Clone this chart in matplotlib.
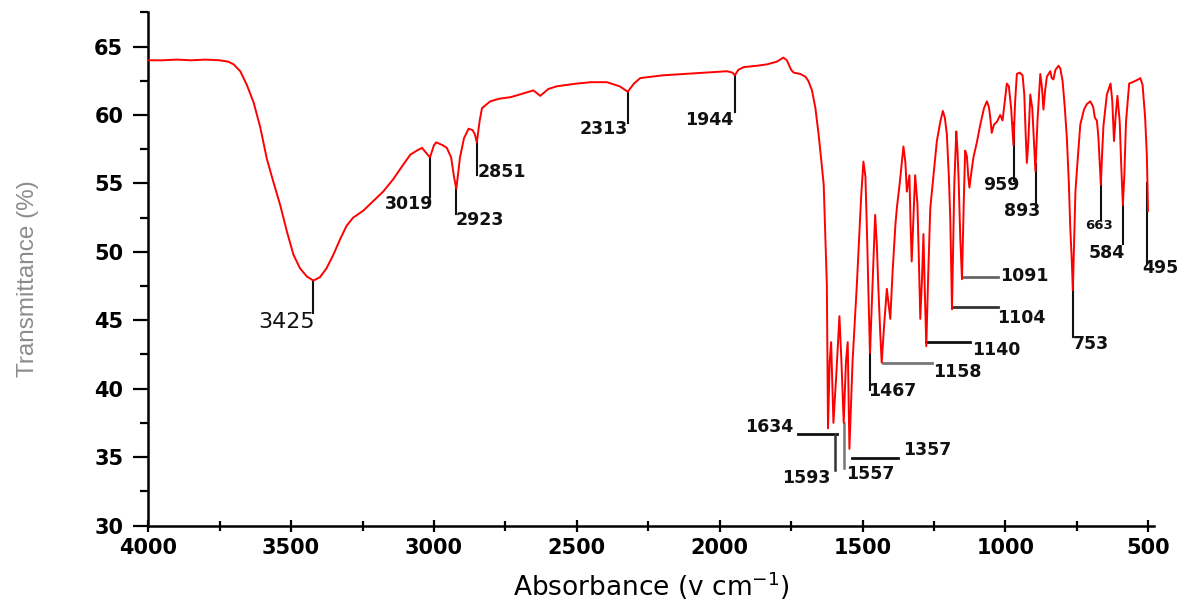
import numpy as np
import matplotlib
matplotlib.use('Agg')
from matplotlib import pyplot as plt
from matplotlib.ticker import MultipleLocator

# FTIR spectrum (wavenumber, transmittance %)
wavenumber = [
    4000, 3950, 3900, 3850, 3800, 3750, 3720, 3701, 3678, 3655, 3631, 3608, 3585,
    3562, 3538, 3515, 3492, 3469, 3445, 3422, 3399, 3376, 3352, 3329, 3306, 3283,
    3248, 3213, 3178, 3143, 3120, 3083, 3060, 3042, 3030, 3014, 3000, 2992, 2970,
    2955, 2940, 2930, 2922, 2915, 2909, 2895, 2879, 2865, 2857, 2850, 2840, 2832,
    2803, 2770, 2733, 2700, 2652, 2640, 2628, 2600, 2570, 2500, 2450, 2395, 2350,
    2322, 2300, 2278, 2200, 2127, 2050, 1975, 1955, 1947, 1935, 1916, 1870, 1835,
    1800, 1777, 1765, 1750, 1741, 1718, 1700, 1690, 1677, 1665, 1654, 1645, 1636,
    1630, 1625, 1621, 1615, 1610, 1602, 1592, 1581, 1574, 1566, 1558, 1552, 1546,
    1535, 1520, 1505, 1497, 1490, 1484, 1479, 1474, 1466, 1456, 1450, 1445, 1438,
    1433, 1425, 1415, 1403, 1395, 1385, 1380, 1370, 1357, 1350, 1345, 1336, 1332,
    1328, 1322, 1316, 1308, 1303, 1298, 1292, 1287, 1282, 1277, 1270, 1263, 1250,
    1240, 1228, 1219, 1212, 1205, 1198, 1193, 1187, 1183, 1179, 1172, 1168, 1164,
    1158, 1152, 1146, 1141, 1135, 1130, 1126, 1118, 1112, 1100, 1088, 1075, 1065,
    1058, 1053, 1048, 1040, 1030, 1018, 1010, 1005, 995, 988, 980, 972, 966, 960,
    950, 940, 934, 929, 925, 920, 913, 906, 900, 895, 888, 878, 872, 867, 861, 855,
    843, 838, 832, 825, 814, 808, 800, 792, 785, 778, 773, 768, 764, 760, 755, 748,
    738, 725, 715, 703, 693, 687, 680, 675, 670, 666, 662, 657, 645, 632, 626, 620,
    614, 608, 600, 595, 589, 584, 578, 567, 555, 545, 535, 528, 520, 511, 505, 501,
]
transmittance = [
    64.0, 64.0, 64.05, 64.0, 64.05, 64.0, 63.9, 63.7, 63.2, 62.2, 60.9, 59.1, 56.8,
    55.1, 53.4, 51.5, 49.8, 48.8, 48.2, 47.9, 48.15, 48.8, 49.8, 50.9, 51.9, 52.5,
    53.0, 53.7, 54.4, 55.3, 56.0, 57.1, 57.4, 57.6, 57.3, 56.9, 57.8, 58.0, 57.8,
    57.6, 56.9, 55.5, 54.6, 55.8, 56.9, 58.3, 59.0, 58.9, 58.6, 58.0, 59.6, 60.5,
    61.0, 61.2, 61.3, 61.5, 61.8, 61.6, 61.4, 61.9, 62.1, 62.3, 62.4, 62.4, 62.1,
    61.7, 62.3, 62.7, 62.9, 63.0, 63.1, 63.2, 63.1, 62.9, 63.3, 63.5, 63.6, 63.7,
    63.9, 64.2, 64.0, 63.3, 63.1, 63.0, 62.8, 62.5, 61.8, 60.5, 58.6, 56.8, 54.9,
    51.0, 47.6, 37.1, 42.0, 43.4, 37.5, 41.0, 45.3, 42.0, 37.5, 42.0, 43.4, 35.6,
    42.0, 47.6, 54.0, 56.6, 55.5, 51.0, 46.6, 42.6, 47.0, 52.7, 50.5, 47.5, 44.0,
    41.9, 44.5, 47.3, 45.1, 48.5, 52.0, 53.2, 55.0, 57.7, 56.5, 54.4, 55.6, 52.0,
    49.3, 52.5, 55.6, 53.5, 49.5, 45.1, 48.0, 51.3, 47.0, 43.1, 48.5, 53.2, 56.0,
    58.1, 59.5, 60.3, 59.8, 58.6, 55.5, 52.4, 45.8, 50.5, 54.9, 58.8, 57.5, 55.4,
    51.0, 48.0, 53.5, 57.4, 57.0, 55.5, 54.7, 56.0, 56.9, 58.0, 59.3, 60.5, 61.0,
    60.6, 59.8, 58.7, 59.3, 59.5, 60.0, 59.6, 60.5, 62.3, 62.1, 60.5, 57.8, 61.0, 63.0,
    63.1, 62.9, 61.5, 58.5, 56.5, 58.0, 61.5, 60.5, 58.0, 55.9, 59.5, 63.0, 62.0, 60.4, 61.8, 62.8,
    63.2, 62.7, 62.6, 63.3, 63.6, 63.4, 62.5, 60.5, 58.3, 55.0, 51.7, 49.5, 47.2, 50.5, 54.4, 56.5,
    59.3, 60.4, 60.8, 61.0, 60.6, 59.8, 59.6, 58.5, 56.5, 54.9, 57.0, 59.2, 61.5, 62.3, 61.0, 58.1,
    60.0, 61.4, 59.5, 56.5, 53.4, 55.5, 59.5, 62.3, 62.4, 62.5, 62.6, 62.7, 62.2, 59.8, 57.0, 53.0,
]

# vertical leaders: label, peak x, leader end y, text x, text y, ha
v_peaks = [
    ('3019', 3014, 54.0, 3003, 53.5, 'right'),
    ('2923', 2923, 52.8, 2925, 52.3, 'left'),
    ('2851', 2851, 55.6, 2848, 55.8, 'left'),
    ('2313', 2322, 59.4, 2320, 59.0, 'right'),
    ('1944', 1947, 60.2, 1952, 59.6, 'right'),
    ('1467', 1475, 39.9, 1481, 39.8, 'left'),
    ('959', 969, 55.2, 949, 54.85, 'right'),
    ('893', 894, 53.3, 879, 53.0, 'right'),
    ('753', 765, 43.8, 764, 43.3, 'left'),
    ('584', 589, 50.6, 581, 49.9, 'right'),
    ('495', 503, 49.2, 522, 48.8, 'left'),
]
# horizontal leaders: label, level, x start, x end, text x, text y, colour
h_peaks = [
    ('1091', 48.16, 1152, 1026, 1019, 48.2, '#666666'),
    ('1104', 46.0, 1188, 1026, 1030, 45.2, '#333333'),
    ('1140', 43.4, 1278, 1125, 1117, 42.8, '#111111'),
    ('1158', 41.9, 1427, 1258, 1254, 41.2, '#777777'),
    ('1357', 34.95, 1538, 1376, 1359, 35.5, '#111111'),
]

plt.rcParams['font.family'] = ['DejaVu Sans']

fig = plt.figure(figsize=(11.87, 6.05), dpi=100)
ax = fig.add_axes([0.1249, 0.1314, 0.8473, 0.8481])

ax.plot(wavenumber, transmittance, color='#ff0000', lw=1.4, zorder=3)

ax.set_xlim(4000, 480)
ax.set_ylim(30, 67.5)

lc = '#111111'
label_kw = dict(fontsize=12.5, fontweight='bold', va='center', color='#111111')

# 3425 broad O-H band, bigger label
t3425 = np.interp(3422, wavenumber[::-1], transmittance[::-1])
ax.plot([3422, 3422], [t3425, 45.5], color=lc, lw=1.5)
ax.text(3418, 44.9, '3425', fontsize=16, ha='right', va='center', color='#111111')

for lab, px, yend, tx, ty, ha in v_peaks:
    ty0 = np.interp(px, wavenumber[::-1], transmittance[::-1])
    ax.plot([px, px], [ty0, yend], color=lc, lw=1.5, zorder=2)
    ax.text(tx, ty, lab, ha=ha, **label_kw)

t663 = np.interp(667, wavenumber[::-1], transmittance[::-1])
ax.plot([667, 667], [t663, 52.3], color=lc, lw=1.5)
ax.text(673, 51.9, '663', fontsize=9.5, fontweight='bold', ha='center',
        va='center', color='#111111')

for lab, lev, x0, x1, tx, ty, col in h_peaks:
    ax.plot([x0, x1], [lev, lev], color=col, lw=2, zorder=2)
    ax.text(tx, ty, lab, ha='left', **label_kw)

# 1634 / 1593 / 1557 cluster
ax.plot([1726, 1591], [36.7, 36.7], color=lc, lw=2)
ax.plot([1597, 1597], [36.7, 34.05], color='#333333', lw=1.8)
ax.text(1744, 37.2, '1634', ha='right', **label_kw)
ax.text(1614, 33.5, '1593', ha='right', **label_kw)
t1557 = np.interp(1566, wavenumber[::-1], transmittance[::-1])
ax.plot([1564, 1564], [t1557, 34.2], color='#777777', lw=1.8)
ax.text(1557, 33.8, '1557', ha='left', **label_kw)

for side in ['top', 'right']:
    ax.spines[side].set_visible(False)
for side in ['left', 'bottom']:
    ax.spines[side].set_linewidth(1.8)

ax.xaxis.set_major_locator(MultipleLocator(500))
ax.xaxis.set_minor_locator(MultipleLocator(250))
ax.yaxis.set_major_locator(MultipleLocator(5))
ax.yaxis.set_minor_locator(MultipleLocator(2.5))

ax.tick_params(axis='y', which='major', direction='out', length=11, width=1.6,
               pad=7, labelsize=15)
ax.tick_params(axis='y', which='minor', direction='out', length=5.5, width=1.6)
ax.tick_params(axis='x', which='major', direction='inout', length=8, width=1.6,
               pad=5, labelsize=15)
ax.tick_params(axis='x', which='minor', direction='inout', length=7, width=1.6)
for lbl in ax.get_xticklabels() + ax.get_yticklabels():
    lbl.set_fontweight('bold')

ax.set_xlabel('Absorbance (v cm$^{-1}$)', fontsize=19, labelpad=8)
fig.text(0.024, 0.54, 'Transmittance (%)', rotation=90, ha='center', va='center',
         fontsize=17.5, color='#8c8c8c', family=['Liberation Sans', 'DejaVu Sans'])

fig.savefig('out.png', dpi=100)
